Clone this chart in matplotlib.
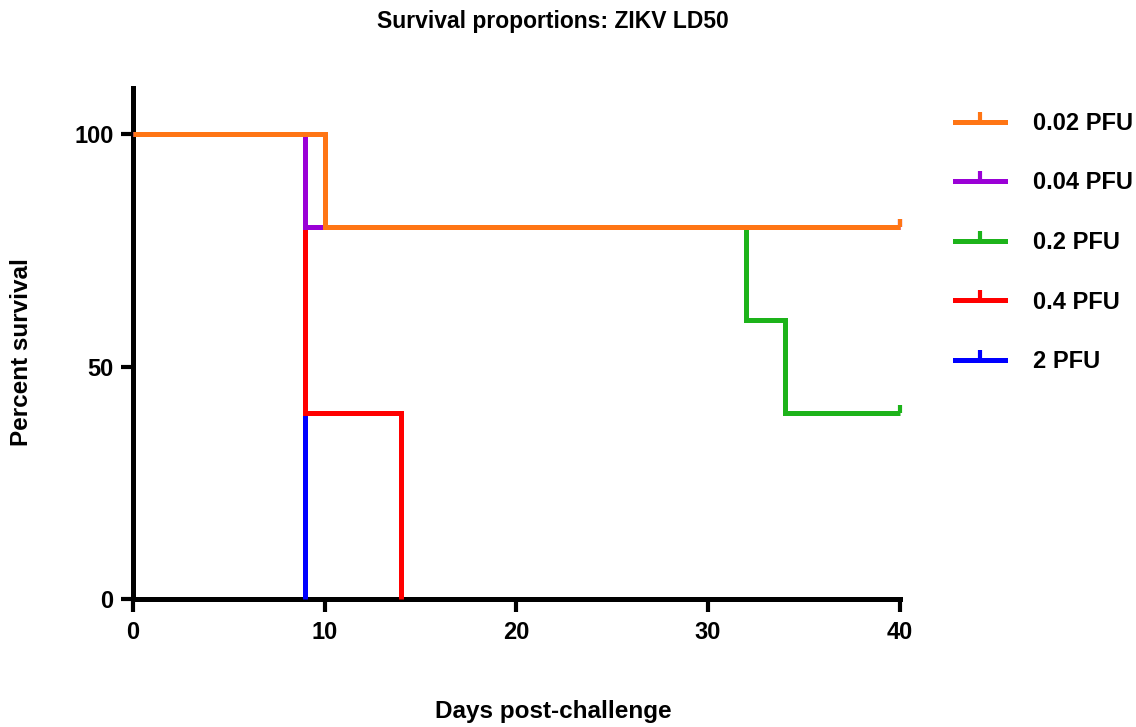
import numpy as np
import matplotlib
matplotlib.use('Agg')
import matplotlib.pyplot as plt
from matplotlib.path import Path

plt.rcParams['font.family'] = ['Liberation Sans', 'DejaVu Sans']
plt.rcParams['font.weight'] = 'bold'

# survival curves (Kaplan-Meier steps), drawn bottom to top
labels = ['2 PFU', '0.4 PFU', '0.2 PFU', '0.04 PFU', '0.02 PFU']
colors = ['#0000FF', '#FF0000', '#1DB31A', '#9A00D6', '#FF7514']
days = [[0, 9], [0, 9, 14], [0, 10, 32, 34, 40], [0, 9, 40], [0, 10, 40]]
surv = [[100, 0], [100, 40, 0], [100, 80, 60, 40, 40], [100, 80, 80], [100, 80, 80]]
# censored points (day, percent)
cens = [None, None, (40, 40), (40, 80), (40, 80)]
legend_order = ['0.02 PFU', '0.04 PFU', '0.2 PFU', '0.4 PFU', '2 PFU']

tick = Path([(0, 0), (0, 1)], [Path.MOVETO, Path.LINETO])
lw = 3.6

fig = plt.figure(figsize=(11.36, 7.27), dpi=100)
ax = fig.add_axes([0.117, 0.176, 0.675, 0.703])

handles = {}
for i in range(len(labels)):
  ax.step(days[i], surv[i], where='post', color=colors[i], lw=lw, clip_on=False,
          zorder=3+i, solid_joinstyle='miter', solid_capstyle='butt')
  if cens[i] is not None:
    ax.plot([cens[i][0]], [cens[i][1]], marker=tick, ms=12, mew=3, color=colors[i],
            ls='none', clip_on=False, zorder=3+i)
  h, = ax.plot([], [], color=colors[i], lw=lw, marker=tick, ms=14, mew=3)
  handles[labels[i]] = h

ax.set_xlim(0, 40)
ax.set_ylim(0, 110)
ax.set_xticks([0, 10, 20, 30, 40])
ax.set_yticks([0, 50, 100])
for s in ['top', 'right']:
  ax.spines[s].set_visible(False)
for s in ['left', 'bottom']:
  ax.spines[s].set_linewidth(3.6)
ax.tick_params(width=3, length=9, labelsize=17)
ax.tick_params(axis='y', pad=5)
ax.tick_params(axis='x', pad=7)

ax.set_xlabel('Days post-challenge', fontsize=17.5, fontweight='bold', va='center')
ax.xaxis.set_label_coords(0.548, -0.221)
ax.set_ylabel('Percent survival', fontsize=17.5, fontweight='bold', va='center')
ax.yaxis.set_label_coords(-0.145, 0.483)
fig.text(0.487, 0.970, 'Survival proportions: ZIKV LD50', fontsize=16.5,
         fontweight='bold', ha='center', va='center')

ax.legend([handles[l] for l in legend_order], legend_order, loc='upper left',
          bbox_to_anchor=(1.045, 0.995), frameon=False, fontsize=17,
          handlelength=2.1, handletextpad=1.2, labelspacing=1.55, numpoints=1)

fig.savefig('out.png', dpi=100)
